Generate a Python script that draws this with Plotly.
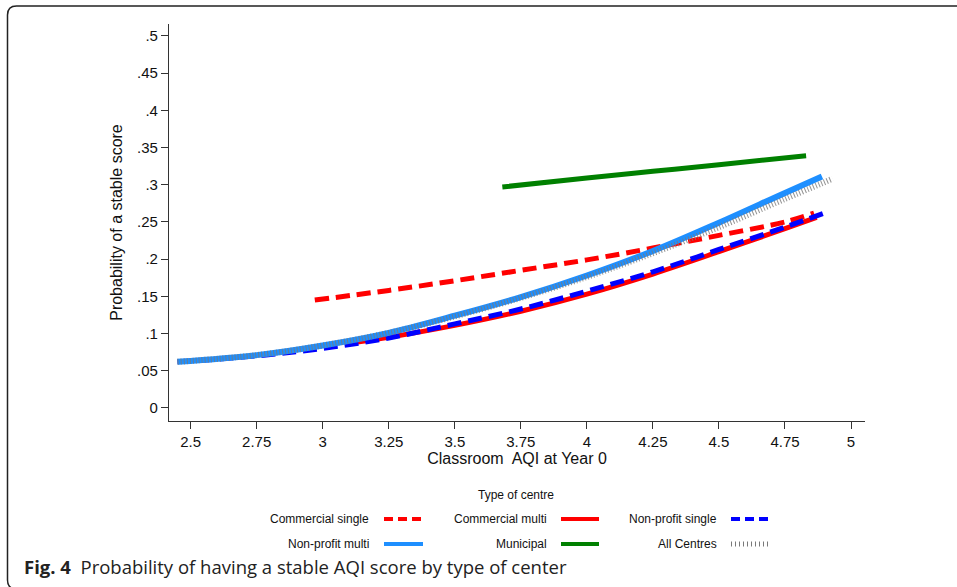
import plotly.graph_objects as go

# ---------------- data ----------------
cs_x = [2.97, 3.25, 3.5, 3.75, 4.0, 4.25, 4.5, 4.75, 4.86]           # Commercial single
cs_y = [0.145, 0.158, 0.171, 0.185, 0.199, 0.215, 0.232, 0.250, 0.262]

cm_x = [3.1, 3.25, 3.5, 3.75, 4.0, 4.25, 4.5, 4.75, 4.87]             # Commercial multi
cm_y = [0.087, 0.095, 0.111, 0.130, 0.153, 0.180, 0.210, 0.241, 0.256]

ns_x = [2.45, 2.75, 3.0, 3.25, 3.5, 3.75, 4.0, 4.25, 4.5, 4.75, 4.915]  # Non-profit single
ns_y = [0.062, 0.070, 0.080, 0.094, 0.113, 0.133, 0.157, 0.183, 0.213, 0.243, 0.264]

nm_x = [2.45, 2.75, 3.0, 3.25, 3.5, 3.75, 4.0, 4.25, 4.5, 4.75, 4.89]   # Non-profit multi
nm_y = [0.062, 0.071, 0.084, 0.101, 0.124, 0.149, 0.178, 0.211, 0.249, 0.289, 0.311]

mu_x = [3.68, 4.0, 4.25, 4.5, 4.83]                                      # Municipal
mu_y = [0.297, 0.309, 0.318, 0.327, 0.339]

al_x = [2.45, 2.75, 3.0, 3.25, 3.5, 3.75, 4.0, 4.25, 4.5, 4.75, 4.93]   # All Centres
al_y = [0.062, 0.071, 0.084, 0.101, 0.123, 0.148, 0.176, 0.208, 0.243, 0.281, 0.308]

x_ticks = [2.5, 2.75, 3, 3.25, 3.5, 3.75, 4, 4.25, 4.5, 4.75, 5]
x_tick_text = ["2.5", "2.75", "3", "3.25", "3.5", "3.75", "4", "4.25", "4.5", "4.75", "5"]
y_ticks = [0, 0.05, 0.1, 0.15, 0.2, 0.25, 0.3, 0.35, 0.4, 0.45, 0.5]
y_tick_text = ["0", ".05", ".1", ".15", ".2", ".25", ".3", ".35", ".4", ".45", ".5"]

names = ["Commercial single", "Commercial multi", "Non-profit single",
         "Non-profit multi", "Municipal", "All Centres"]
colors = ["#FF0000", "#FF0000", "#0000FF", "#1E8FFF", "#008000", "#7a7a7a"]
dashes = ["14px,7px", "solid", "14px,7px", "solid", "solid", "1px,2px"]
widths = [5, 5, 5, 6, 5, 6]
series = [(cs_x, cs_y), (cm_x, cm_y), (ns_x, ns_y), (nm_x, nm_y), (mu_x, mu_y), (al_x, al_y)]

FONT = "Liberation Sans Narrow, Arial Narrow, Liberation Sans, Arial, sans-serif"

fig = go.Figure()
for (xs, ys), n, c, d, w in zip(series, names, colors, dashes, widths):
    fig.add_trace(go.Scatter(x=xs, y=ys, mode="lines", name=n, line_shape="spline",
                             line=dict(color=c, dash=d, width=w), showlegend=False,
                             opacity=0.8 if n == "All Centres" else 1.0,
                             hoverinfo="skip"))

# plot area pixel geometry
W, H = 957, 587
L, R, T, B = 169, 865, 24, 421
pw, ph = R - L, B - T

def px(xp):
    return (xp - L) / pw

def py(yp):
    return (B - yp) / ph

shapes = []
annotations = []

# rounded frame (left and top edges, bottom-left corner)
x0, yt, xr, yb = px(7.5), py(6), px(980), py(589)
rx, ry = 9 / pw, 9 / ph
shapes.append(dict(type="path", xref="paper", yref="paper",
                   path=f"M {xr},{yt} L {x0+rx},{yt} Q {x0},{yt} {x0},{yt-ry} "
                        f"L {x0},{yb+ry} Q {x0},{yb} {x0+rx},{yb}",
                   line=dict(color="#222222", width=1.5)))

# legend (manual, Stata style: label then key)
annotations.append(dict(x=px(516), y=py(495), xref="paper", yref="paper",
                        xanchor="center", yanchor="middle",
                        text="Type of centre", showarrow=False,
                        font=dict(size=12, color="#111111", family=FONT)))
cols = [(371, 384, 423), (549, 561, 599), (719, 731, 769)]
rows = [519, 544]
for i, n in enumerate(names):
    r, c = divmod(i, 3)
    tx, k0, k1 = cols[c]
    yy = rows[r]
    annotations.append(dict(x=px(tx), y=py(yy), xref="paper", yref="paper",
                            text=n, showarrow=False, xanchor="right", yanchor="middle",
                            font=dict(size=12, color="#111111", family=FONT)))
    kd = {"14px,7px": "9px,5px", "solid": "solid", "1px,2px": "1px,3px"}[dashes[i]]
    shapes.append(dict(type="line", xref="paper", yref="paper",
                       x0=px(k0), x1=px(k1), y0=py(yy), y1=py(yy),
                       line=dict(color=colors[i], width=4 if i != 5 else 5, dash=kd)))

# caption
annotations.append(dict(x=px(22), y=py(566), xref="paper", yref="paper",
                        text="<b>Fig. 4</b>  Probability of having a stable AQI score by type of center",
                        showarrow=False, xanchor="left", yanchor="middle",
                        font=dict(size=18.5, color="#222222", family="Open Sans, Noto Sans, sans-serif")))

fig.update_layout(
    width=W, height=H,
    margin=dict(l=L, r=W - R, t=T, b=H - B),
    paper_bgcolor="white", plot_bgcolor="white",
    shapes=shapes, annotations=annotations,
    font=dict(family=FONT, color="#111111"),
)
fig.update_xaxes(range=[2.418, 5.053], tickvals=x_ticks, ticktext=x_tick_text,
                 showgrid=False, zeroline=False, showline=True, linecolor="#333333",
                 linewidth=1.2, ticks="outside", ticklen=7, tickcolor="#333333",
                 tickfont=dict(size=15, family=FONT, color="#111111"),
                 title=dict(text="Classroom  AQI at Year 0", standoff=1,
                            font=dict(size=16, family=FONT, color="#111111")))
fig.update_yaxes(range=[-0.0175, 0.516], tickvals=y_ticks, ticktext=y_tick_text,
                 showgrid=False, zeroline=False, showline=True, linecolor="#333333",
                 linewidth=1.2, ticks="outside", ticklen=7, tickcolor="#333333",
                 tickfont=dict(size=15, family=FONT, color="#111111"),
                 title=dict(text="Probability of a stable score", standoff=10,
                            font=dict(size=16, family=FONT, color="#111111")))

fig.write_html("out.html")
